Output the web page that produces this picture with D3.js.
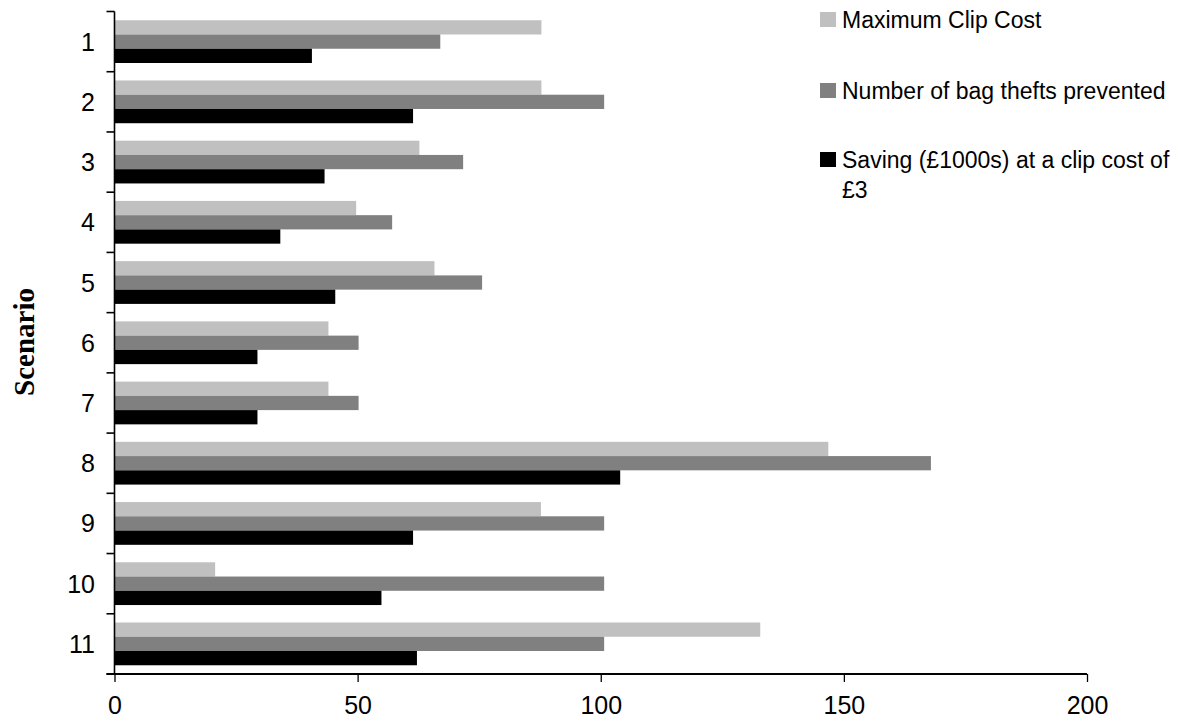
<!DOCTYPE html>
<html>
<head>
<meta charset="utf-8">
<script src="https://cdn.jsdelivr.net/npm/d3@7"></script>
<style>
  html, body { margin: 0; padding: 0; background: #fff; }
  svg { display: block; }
</style>
</head>
<body>
<svg id="chart" width="1184" height="725"></svg>
<script>
const scenarios = ["1","2","3","4","5","6","7","8","9","10","11"];
const seriesNames = ["Maximum Clip Cost", "Number of bag thefts prevented", "Saving (£1000s) at a clip cost of £3"];
const maxClipCost = [87.8, 87.8, 62.7, 49.7, 65.8, 44.0, 44.0, 146.8, 87.7, 20.7, 132.8];
const bagThefts   = [67.0, 100.7, 71.7, 57.1, 75.6, 50.2, 50.2, 167.9, 100.7, 100.7, 100.7];
const saving      = [40.6, 61.4, 43.2, 34.1, 45.4, 29.4, 29.4, 104.0, 61.4, 54.9, 62.2];
const xTicks = [0, 50, 100, 150, 200];
const colors = ["#c0c0c0", "#808080", "#000000"];

const series = [maxClipCost, bagThefts, saving];

const svg = d3.select("#chart");
const pLeft = 114.5, pRight = 1087, pTop = 11.5, pBottom = 674;

const x = d3.scaleLinear().domain([0, 200]).range([pLeft, pRight]);
const y = d3.scaleBand().domain(scenarios).range([pTop, pBottom]).paddingInner(0.29).paddingOuter(0.145);
const ySub = d3.scaleBand().domain([0,1,2]).range([0, y.bandwidth()]);

// bars
const g = svg.append("g");
scenarios.forEach((s, i) => {
  series.forEach((vals, k) => {
    g.append("rect")
      .attr("x", x(0))
      .attr("y", y(s) + ySub(k))
      .attr("width", x(vals[i]) - x(0))
      .attr("height", ySub.bandwidth())
      .attr("fill", colors[k]);
  });
});

// x axis
const xAxis = d3.axisBottom(x).tickValues(xTicks).tickSize(8).tickPadding(14).tickFormat(d3.format("d"));
const xg = svg.append("g").attr("transform", `translate(0,${pBottom})`).call(xAxis);
xg.select(".domain").attr("stroke", "#000").attr("stroke-width", 2).attr("d", `M${pLeft-8},0H${pRight}`);
xg.selectAll(".tick line").attr("stroke", "#000").attr("stroke-width", 1.3);
xg.selectAll(".tick text").attr("font-family", "Liberation Sans, Arial, sans-serif").attr("font-size", 25).attr("fill", "#000");

// y axis
const yTickPos = d3.range(scenarios.length + 1).map(i => pTop + i * (pBottom - pTop) / scenarios.length);
const yg = svg.append("g");
yg.append("line").attr("x1", pLeft).attr("x2", pLeft).attr("y1", pTop).attr("y2", pBottom)
  .attr("stroke", "#000").attr("stroke-width", 1.6);
yTickPos.forEach(p => {
  yg.append("line").attr("x1", pLeft - 8).attr("x2", pLeft).attr("y1", p).attr("y2", p)
    .attr("stroke", "#000").attr("stroke-width", 1.6);
});
scenarios.forEach(s => {
  yg.append("text")
    .attr("x", 95).attr("y", y(s) + y.bandwidth() / 2)
    .attr("text-anchor", "end").attr("dominant-baseline", "central")
    .attr("font-family", "Liberation Sans, Arial, sans-serif").attr("font-size", 25)
    .text(s);
});

// y title
svg.append("text")
  .attr("transform", "translate(24,342) rotate(-90)")
  .attr("text-anchor", "middle").attr("dominant-baseline", "central")
  .attr("font-family", "Liberation Serif, Times New Roman, serif")
  .attr("font-weight", "bold").attr("font-size", 29)
  .text("Scenario");

// legend
const legendY = [20, 91, 160];
const legendLines = [["Maximum Clip Cost"], ["Number of bag thefts prevented"], ["Saving (£1000s) at a clip cost of", "£3"]];
seriesNames.forEach((n, k) => {
  svg.append("rect").attr("x", 820).attr("y", legendY[k] - 8).attr("width", 16).attr("height", 15).attr("fill", colors[k]);
  const t = svg.append("text")
    .attr("x", 842).attr("y", legendY[k])
    .attr("font-family", "Liberation Sans, Arial, sans-serif").attr("font-size", 23)
    .attr("dominant-baseline", "central");
  legendLines[k].forEach((line, j) => {
    t.append("tspan").attr("x", 842).attr("dy", j === 0 ? 0 : 30).text(line);
  });
});
</script>
</body>
</html>
